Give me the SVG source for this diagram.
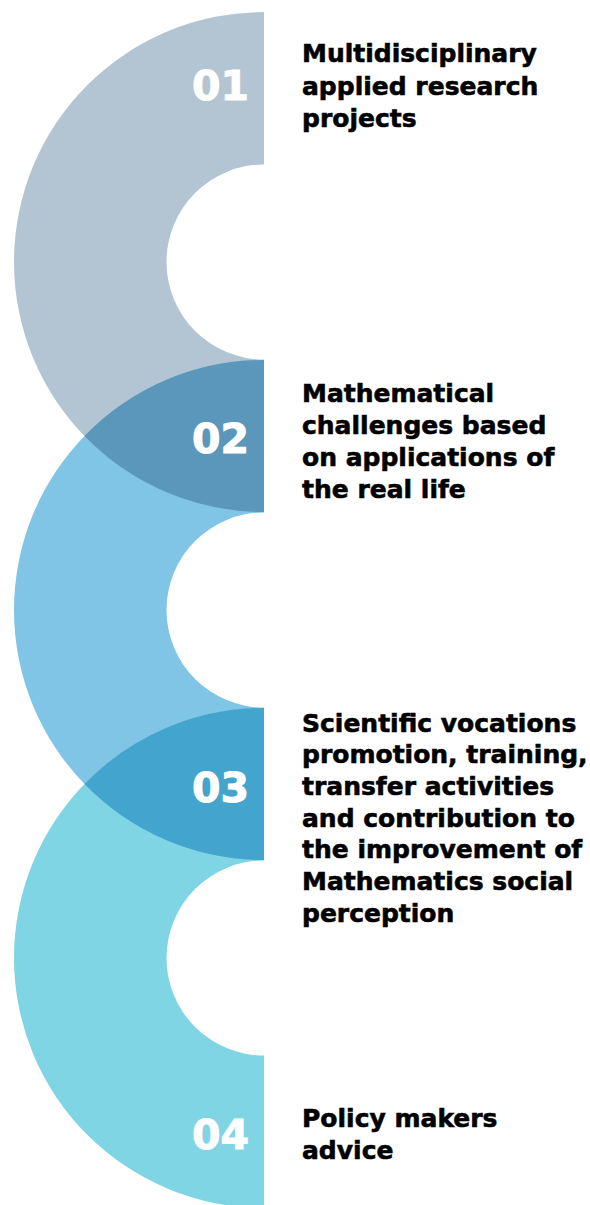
<svg xmlns="http://www.w3.org/2000/svg" width="590" height="1205" viewBox="0 0 590 1205">
  <style>
    .num { font-family: "DejaVu Sans", "Liberation Sans", sans-serif; font-weight: bold; font-size: 41px; fill: #ffffff; stroke: #ffffff; stroke-width: 1; }
    .lbl { font-family: "DejaVu Sans", "Liberation Sans", sans-serif; font-weight: bold; font-size: 25px; fill: #000000; stroke: #000000; stroke-width: 0.6; }
  </style>
  <rect width="590" height="1205" fill="#ffffff"/>
  <g id="arc1">
    <path d="M264,12 A250,250 0 0 0 264,512 L264,359.5 A97.5,97.5 0 0 1 264,164.5 Z" fill="#b3c5d3"/>
  </g>
  <g id="arc2">
    <path d="M264,360 A250,250 0 0 0 264,860 L264,707.5 A97.5,97.5 0 0 1 264,512.5 Z" fill="#80c4e6"/>
  </g>
  <g id="arc3">
    <path d="M264,708 A250,250 0 0 0 264,1208 L264,1055.5 A97.5,97.5 0 0 1 264,860.5 Z" fill="#7fd5e4"/>
  </g>
  <g id="overlaps">
    <path d="M264,360 A250,250 0 0 0 84.5,436 A250,250 0 0 0 264,512 Z" fill="#5b97bb"/>
    <path d="M264,708 A250,250 0 0 0 84.5,784 A250,250 0 0 0 264,860 Z" fill="#43a5cd"/>
  </g>
  <g id="item1">
    <text class="num" x="192" y="100">01</text>
    <text class="lbl" x="302" y="62">Multidisciplinary</text>
    <text class="lbl" x="302" y="94.5">applied research</text>
    <text class="lbl" x="302" y="127">projects</text>
  </g>
  <g id="item2">
    <text class="num" x="192" y="452.5">02</text>
    <text class="lbl" x="302" y="401.5">Mathematical</text>
    <text class="lbl" x="302" y="433.8">challenges based</text>
    <text class="lbl" x="302" y="466">on applications of</text>
    <text class="lbl" x="302" y="498.3">the real life</text>
  </g>
  <g id="item3">
    <text class="num" x="192" y="802">03</text>
    <text class="lbl" x="302" y="731.5">Scientific vocations</text>
    <text class="lbl" x="302" y="763.2">promotion, training,</text>
    <text class="lbl" x="302" y="794.9">transfer activities</text>
    <text class="lbl" x="302" y="826.6">and contribution to</text>
    <text class="lbl" x="302" y="858.3">the improvement of</text>
    <text class="lbl" x="302" y="890">Mathematics social</text>
    <text class="lbl" x="302" y="921.7">perception</text>
  </g>
  <g id="item4">
    <text class="num" x="192" y="1149">04</text>
    <text class="lbl" x="302" y="1127">Policy makers</text>
    <text class="lbl" x="302" y="1159">advice</text>
  </g>
</svg>
